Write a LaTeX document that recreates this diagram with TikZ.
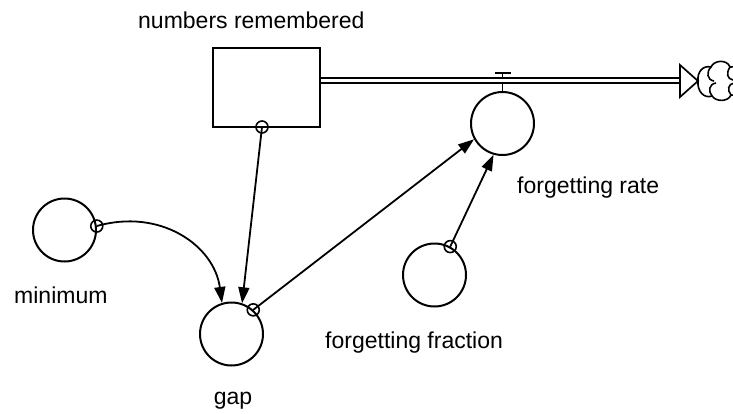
\documentclass[tikz,border=0pt]{standalone}
\usepackage{fontspec}
\setmainfont{Liberation Sans}
\usetikzlibrary{arrows.meta}
\begin{document}
\begin{tikzpicture}[x=1pt,y=-1pt,
  lbl/.style={inner sep=0pt,font=\fontsize{23}{27}\selectfont},
  aux/.style={circle,draw,line width=2pt,minimum size=63pt,inner sep=0pt},
  tap/.style={circle,draw,line width=1.6pt,minimum size=12pt,inner sep=0pt},
  link/.style={line width=1.8pt,-{Triangle[length=16pt,width=11pt]}},
  pipe/.style={line width=1.7pt}]
\useasboundingbox (0,0) rectangle (733,413);
% stock
\node[draw,line width=1.8pt,minimum width=107pt,minimum height=79pt,inner sep=0pt] (stock) at (266.5,87.5) {};
\node[lbl,anchor=base west] (stocklbl) at (138,28) {numbers remembered};
% auxiliaries
\node[aux] (min) at (64.5,230) {};
\node[aux] (gap) at (231.5,334) {};
\node[aux] (rate) at (502.5,123.5) {};
\node[aux] (ff) at (434.5,275) {};
\node[lbl,anchor=base west] (minlbl) at (14,303) {minimum};
\node[lbl,anchor=base] (gaplbl) at (233,404) {gap};
\node[lbl,anchor=base west] (ratelbl) at (517,193) {forgetting rate};
\node[lbl,anchor=base west] (fflbl) at (325,348) {forgetting fraction};
% taps
\node[tap] (tstock) at (262,127) {};
\node[tap] (tmin) at (min.7) {};
\node[tap] (tgap) at (gap.48) {};
\node[tap] (tff) at (ff.61) {};
% connectors
\draw[link] (tstock.center) -- (gap.71);
\draw[link] (tmin.center) .. controls (160,208) and (214,245) .. (gap.107);
\draw[link] (tgap.center) -- (rate.209.6);
\draw[link] (tff.center) -- (rate.254);
% flow pipe
\coordinate (p1) at (320,78);
\coordinate (p2) at (320,83);
\coordinate (ab1) at (680,65);
\coordinate (ab2) at (680,97);
\coordinate (tip) at (698,81);
\draw[pipe] (p1) -- (680,78);
\draw[pipe] (p2) -- (680,83);
\draw[pipe,fill=white,line join=miter] (ab1) -- (tip) -- (ab2) -- cycle;
% valve
\coordinate (vbar) at (502.5,73);
\draw[pipe] (rate.north) -- (502.5,83);
\draw[pipe] (502.5,78) -- (vbar);
\draw[pipe] (495,73) -- (511,73);
% cloud
\begin{scope}[line width=1.6pt]
\draw (tip) .. controls (697,72) and (703,65) .. (711,67)
  .. controls (714,60) and (727,59) .. (730,67) .. controls (733,66) and (735,67) .. (736,69);
\draw (tip) .. controls (697,91) and (704,99) .. (712,96)
  .. controls (716,102) and (728,102) .. (731,95) .. controls (733,96) and (735,95) .. (736,93);
\draw (711,67) .. controls (706,72) and (707,80) .. (714,81);
\draw (712,96) .. controls (708,91) and (709,84) .. (716,83);
\draw (730,67) .. controls (726,73) and (727,79) .. (733,80);
\draw (731,95) .. controls (727,90) and (728,84) .. (734,83);
\end{scope}
\end{tikzpicture}
\end{document}
